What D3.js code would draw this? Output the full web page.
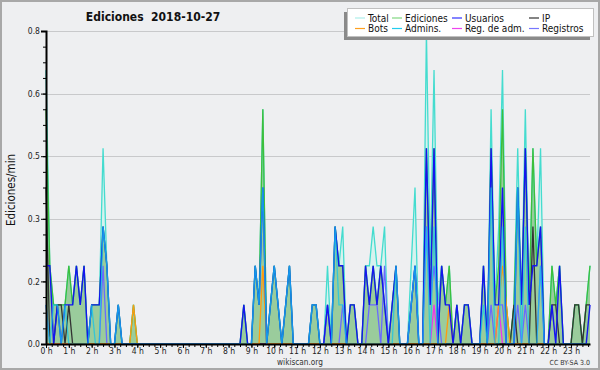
<!DOCTYPE html>
<html>
<head>
<meta charset="utf-8">
<script src="https://cdn.jsdelivr.net/npm/d3@7"></script>
<style>
  body { margin: 0; background: #fff; }
  svg { display: block; }
  text { font-family: "DejaVu Sans Condensed", "DejaVu Sans", sans-serif; }
</style>
</head>
<body>
<div id="chart"></div>
<script>
// ediciones por minuto, una muestra cada 10 minutos (144 por día)
const total = [
  .7,.2,.1,.1,.1,.1, .2,.1,.2,.1,.2,0, .1,.1,.1,.5,.2,0, 0,.1,0,0,0,.1,
  0,0,0,0,0,0, 0,0,0,0,0,0, 0,0,0,0,0,0, 0,0,0,0,0,0,
  0,0,0,0,.1,0, 0,.2,.1,.6,0,.1, .2,.1,0,.1,.2,0, 0,0,0,0,.1,.1,
  0,0,.2,0,.3,.2, .3,0,.1,.1,0,0, .2,.2,.3,.2,.2,.3, 0,.1,.2,0,0,0,
  .2,.4,0,0,.8,.2, .7,.1,.2,.1,.2,0, .1,0,.1,.1,0,0, 0,.2,0,.6,.1,.3,
  .7,.1,0,.1,.5,.1, .6,.1,.5,.2,.5,0, 0,.2,.1,.2,0,0, 0,.1,.1,0,.1,.2
];
const ediciones = [
  .6,.2,.1,.1,.1,.1, .2,.1,.2,.1,.2,0, .1,.1,.1,.3,.2,0, 0,.1,0,0,0,.1,
  0,0,0,0,0,0, 0,0,0,0,0,0, 0,0,0,0,0,0, 0,0,0,0,0,0,
  0,0,0,0,.1,0, 0,.2,.1,.6,0,.1, .2,.1,0,.1,.2,0, 0,0,0,0,.1,.1,
  0,0,.1,0,.3,.2, .2,0,.1,.1,0,0, .2,.1,.2,.1,.2,.1, 0,.1,.2,0,0,0,
  .1,.2,0,0,.5,.1, .5,0,.2,.1,.2,0, .1,0,.1,.1,0,0, 0,.2,0,.5,.1,.2,
  .6,.1,0,.1,.4,.1, .5,.1,.5,.2,.3,0, 0,.2,.1,.2,0,0, 0,.1,.1,0,.1,.2
];
const usuarios = [
  .2,.2,0,.1,0,.1, .1,.1,.2,.1,.2,0, .1,.1,.1,.3,.2,0, 0,.1,0,0,0,0,
  0,0,0,0,0,0, 0,0,0,0,0,0, 0,0,0,0,0,0, 0,0,0,0,0,0,
  0,0,0,0,.1,0, 0,.2,.1,.4,0,.1, .2,.1,0,.1,.2,0, 0,0,0,0,.1,.1,
  0,0,.1,0,.3,.2, .2,0,.1,.1,0,0, .2,.1,.2,.1,.2,.1, 0,.1,.2,0,0,0,
  .1,.2,0,0,.5,.1, .5,0,.2,.1,.1,0, .1,0,.1,.1,0,0, 0,.2,0,.5,.1,.1,
  .4,0,0,0,.4,.1, .5,.1,.2,.2,.3,0, 0,.1,0,.2,0,0, 0,0,0,0,0,.1
];
const ip = [
  .4,0,0,.1,.1,0, .1,0,0,0,0,0, 0,0,0,0,0,0, 0,0,0,0,0,0,
  0,0,0,0,0,0, 0,0,0,0,0,0, 0,0,0,0,0,0, 0,0,0,0,0,0,
  0,0,0,0,0,0, 0,0,0,0,0,0, 0,0,0,0,0,0, 0,0,0,0,0,0,
  0,0,0,0,0,0, 0,0,0,0,0,0, 0,0,0,0,0,0, 0,0,0,0,0,0,
  0,0,0,0,0,0, 0,0,0,0,0,0, 0,0,0,0,0,0, 0,0,0,0,0,0,
  0,0,0,.1,0,0, 0,0,.3,0,0,0, 0,.1,.1,0,0,0, 0,.1,.1,0,.1,.1
];
const bots = [
  0,0,0,0,0,0, 0,0,0,0,0,0, 0,0,0,0,0,0, 0,0,0,0,0,.1,
  0,0,0,0,0,0, 0,0,0,0,0,0, 0,0,0,0,0,0, 0,0,0,0,0,0,
  0,0,0,0,0,0, 0,0,0,.2,0,0, 0,0,0,0,0,0, 0,0,0,0,0,0,
  0,0,0,0,0,0, 0,0,0,0,0,0, 0,0,0,0,0,0, 0,0,0,0,0,0,
  0,0,0,0,0,0, 0,0,0,0,.1,0, 0,0,0,0,0,0, 0,0,0,0,0,.1,
  .2,.1,0,0,0,0, 0,0,0,0,0,0, 0,0,0,0,0,0, 0,0,0,0,0,0
];
const admins = [
  .1,0,.1,.1,0,.1, 0,0,0,0,0,0, .1,0,0,.3,.2,0, 0,.1,0,0,0,0,
  0,0,0,0,0,0, 0,0,0,0,0,0, 0,0,0,0,0,0, 0,0,0,0,0,0,
  0,0,0,0,0,0, 0,.2,.1,.4,0,.1, .2,.1,0,.1,.2,0, 0,0,0,0,.1,.1,
  0,0,0,0,.3,.1, .1,0,0,0,0,0, 0,0,0,0,0,0, 0,0,.2,0,0,0,
  .1,.2,0,0,.3,0, .3,0,0,0,0,0, 0,0,0,0,0,0, 0,.1,0,.4,0,0,
  .3,0,0,0,.4,0, .3,0,0,0,.2,0, 0,0,0,0,0,0, 0,0,0,0,0,0
];
const regAdm = [
  0,0,0,0,0,0, 0,0,0,0,0,0, 0,0,0,0,0,0, 0,0,0,0,0,0,
  0,0,0,0,0,0, 0,0,0,0,0,0, 0,0,0,0,0,0, 0,0,0,0,0,0,
  0,0,0,0,0,0, 0,0,0,0,0,0, 0,0,0,0,0,0, 0,0,0,0,0,0,
  0,0,0,0,0,0, 0,0,0,0,0,0, 0,0,0,0,0,0, 0,0,0,0,0,0,
  0,0,0,0,0,0, .1,0,0,0,0,0, 0,0,0,0,0,0, 0,0,0,0,0,.1,
  0,0,0,0,0,0, 0,0,0,0,0,0, 0,0,0,0,0,0, 0,0,0,0,0,0
];
const registros = [
  .1,0,0,0,0,0, 0,0,0,0,0,0, 0,0,0,.2,0,0, 0,0,0,0,0,0,
  0,0,0,0,0,0, 0,0,0,0,0,0, 0,0,0,0,0,0, 0,0,0,0,0,0,
  0,0,0,0,0,0, 0,0,0,0,0,0, 0,0,0,0,0,0, 0,0,0,0,0,0,
  0,0,.1,0,0,0, .1,0,0,0,0,0, 0,.1,.1,.1,0,.2, 0,0,0,0,0,0,
  .1,.2,0,0,.3,.1, .2,.1,0,0,0,0, 0,0,0,0,0,0, 0,0,0,.1,0,.1,
  .1,0,0,0,.1,0, .1,0,0,0,.2,0, 0,0,0,0,0,0, 0,0,0,0,0,0
];

const hourLabels = ["0 h","1 h","2 h","3 h","4 h","5 h","6 h","7 h","8 h","9 h","10 h","11 h",
  "12 h","13 h","14 h","15 h","16 h","17 h","18 h","19 h","20 h","21 h","22 h","23 h"];
const yTicks = [0, 0.16, 0.32, 0.48, 0.64, 0.8];
const yTickLabels = ["0.0", "0.2", "0.3", "0.5", "0.6", "0.8"];

const W = 600, H = 370;
const plot = { left: 46, right: 590, top: 31, bottom: 344 };

const minutes = total.map((d, i) => i * 10);

const svg = d3.select("#chart").append("svg")
  .attr("width", W).attr("height", H);

svg.append("rect")
  .attr("x", 1).attr("y", 1).attr("width", W - 2).attr("height", H - 2)
  .attr("fill", "#eeeff1").attr("stroke", "#a8a8a8").attr("stroke-width", 2);

const x = d3.scaleLinear().domain([0, 1430]).range([plot.left, plot.right]);
const y = d3.scaleLinear().domain([0, 0.8]).range([plot.bottom, plot.top]);

// grille
svg.append("g").selectAll("line")
  .data(yTicks.slice(1))
  .join("line")
  .attr("x1", plot.left).attr("x2", plot.right)
  .attr("y1", d => Math.round(y(d)) + 0.5).attr("y2", d => Math.round(y(d)) + 0.5)
  .attr("stroke", "#c8c9cb");

const area = d3.area()
  .x((d, i) => x(minutes[i]))
  .y0(y(0))
  .y1(d => y(d));

const line = d3.line()
  .x((d, i) => x(minutes[i]))
  .y(d => y(d));

svg.append("path").datum(total).attr("d", area).attr("fill", "#d6f2ee");
svg.append("path").datum(ediciones).attr("d", area).attr("fill", "#9acc9c");

const series = [
  { values: total, color: "#44dccf", width: 1.3 },
  { values: ediciones, color: "#3cbf3c", width: 1.3 },
  { values: registros, color: "#6a6aff", width: 1.3 },
  { values: regAdm, color: "#ee33ee", width: 1.3 },
  { values: ip, color: "#333333", width: 1.3 },
  { values: bots, color: "#ff9a10", width: 1.3 },
  { values: usuarios, color: "#1414f0", width: 1.4 },
  { values: admins, color: "#14c4e8", width: 1.3, opacity: 0.75 }
];

series.forEach(s => {
  svg.append("path").datum(s.values)
    .attr("d", line)
    .attr("fill", "none")
    .attr("stroke", s.color)
    .attr("stroke-width", s.width)
    .attr("stroke-opacity", s.opacity || 1);
});

// axes
const yAxis = svg.append("g")
  .attr("transform", `translate(${plot.left},0)`)
  .call(d3.axisLeft(y).tickValues(yTicks).tickFormat((d, i) => yTickLabels[i]).tickSize(5).tickPadding(1));
svg.append("g")
  .attr("transform", `translate(${plot.left},0)`)
  .call(d3.axisLeft(y).tickValues(d3.range(0, 0.81, 0.04)).tickFormat("").tickSize(3))
  .select(".domain").remove();
yAxis.select(".domain").attr("stroke-width", 2);

const xAxis = svg.append("g")
  .attr("transform", `translate(0,${plot.bottom})`)
  .call(d3.axisBottom(x).tickValues(hourLabels.map((d, i) => i * 60))
    .tickFormat((d, i) => hourLabels[i]).tickSize(4).tickPadding(0).tickSizeOuter(0));
svg.append("g")
  .attr("transform", `translate(0,${plot.bottom})`)
  .call(d3.axisBottom(x).tickValues(d3.range(0, 1431, 15)).tickFormat("").tickSize(3))
  .select(".domain").remove();
xAxis.select(".domain").attr("stroke-width", 2);

svg.selectAll(".tick text")
  .attr("font-family", "'DejaVu Sans Condensed', 'DejaVu Sans', sans-serif")
  .attr("font-size", 8.5)
  .attr("fill", "#222");

// titre
svg.append("text")
  .attr("x", 153).attr("y", 21)
  .attr("text-anchor", "middle")
  .attr("font-size", 12).attr("font-weight", "bold")
  .attr("fill", "#111")
  .text("Ediciones\u00a0\u00a02018-10-27");

svg.append("text")
  .attr("transform", "translate(15,190) rotate(-90)")
  .attr("text-anchor", "middle")
  .attr("font-size", 11.5)
  .attr("fill", "#111")
  .text("Ediciones/min");

svg.append("text")
  .attr("x", 300).attr("y", 365)
  .attr("text-anchor", "middle")
  .attr("font-size", 8.2).attr("fill", "#333")
  .text("wikiscan.org");

svg.append("text")
  .attr("x", 590).attr("y", 365)
  .attr("text-anchor", "end")
  .attr("font-size", 7).attr("fill", "#333")
  .text("CC BY-SA 3.0");

// légende
const legendNames = ["Total", "Ediciones", "Usuarios", "IP", "Bots", "Admins.", "Reg. de adm.", "Registros"];
const legendColors = ["#aeeeea", "#80d880", "#3333ff", "#333333", "#ffa020", "#22ccee", "#ee44ee", "#7777ff"];
const legendCols = [355, 392, 452, 529];

const legend = svg.append("g");
legend.append("rect")
  .attr("x", 344).attr("y", 12).attr("width", 246).attr("height", 28)
  .attr("fill", "#8a8a8a");
legend.append("rect")
  .attr("x", 347.5).attr("y", 8.5).attr("width", 246).attr("height", 28)
  .attr("fill", "#fff").attr("stroke", "#c0c0c0");

legendNames.forEach((name, i) => {
  const col = i % 4, row = Math.floor(i / 4);
  const lx = legendCols[col], ly = 18 + row * 10.5;
  legend.append("line")
    .attr("x1", lx).attr("x2", lx + 10)
    .attr("y1", ly).attr("y2", ly)
    .attr("stroke", legendColors[i]).attr("stroke-width", 1.2);
  legend.append("text")
    .attr("x", lx + 13).attr("y", ly + 3.5)
    .attr("font-size", 10).attr("fill", "#111")
    .text(name);
});
</script>
</body>
</html>
